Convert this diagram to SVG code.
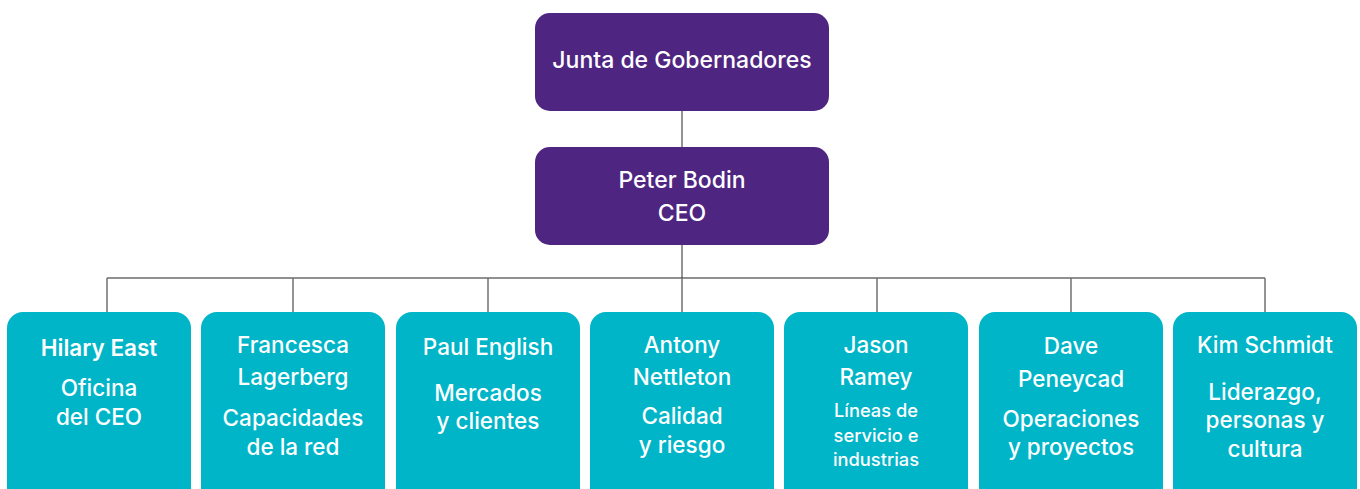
<svg xmlns="http://www.w3.org/2000/svg" width="1360" height="489" viewBox="0 0 1360 489">
<style>
.top{fill:#4F2582}
.box{fill:#00B5C8}
.t{font-family:Inter,"Noto Sans",sans-serif;font-weight:500;fill:#ffffff;text-anchor:middle;font-size:22.5px}
.tt{font-size:23px}
.s{font-size:18.3px}
.b{font-weight:600}
.v{stroke:#707070;stroke-width:1.5;fill:none}
.h{stroke:#222;stroke-width:1.2;fill:none}
</style>
<rect width="1360" height="489" fill="#ffffff"/>
<g id="connectors">
<line class="v" x1="682" y1="111" x2="682" y2="147"/>
<line class="v" x1="682" y1="244" x2="682" y2="278"/>
<line class="h" x1="107" y1="278" x2="1265" y2="278"/>
<line class="v" x1="107" y1="278" x2="107" y2="312"/>
<line class="v" x1="293" y1="278" x2="293" y2="312"/>
<line class="v" x1="488" y1="278" x2="488" y2="312"/>
<line class="v" x1="682" y1="278" x2="682" y2="312"/>
<line class="v" x1="877" y1="278" x2="877" y2="312"/>
<line class="v" x1="1071" y1="278" x2="1071" y2="312"/>
<line class="v" x1="1265" y1="278" x2="1265" y2="312"/>
</g>
<g id="junta">
<rect class="top" x="535" y="13" width="294" height="98" rx="15"/>
<text class="t tt" x="682" y="68">Junta de Gobernadores</text>
</g>
<g id="ceo">
<rect class="top" x="535" y="147" width="294" height="98" rx="15"/>
<text class="t tt" x="682" y="188">Peter Bodin</text>
<text class="t tt" x="682" y="221">CEO</text>
</g>
<g id="hilary">
<rect class="box" x="7" y="312" width="184" height="200" rx="16"/>
<text class="t b" x="99" y="356">Hilary East</text>
<text class="t" x="99" y="396">Oficina</text>
<text class="t" x="99" y="425">del CEO</text>
</g>
<g id="francesca">
<rect class="box" x="201" y="312" width="184" height="200" rx="16"/>
<text class="t" x="293" y="353">Francesca</text>
<text class="t" x="293" y="385">Lagerberg</text>
<text class="t" x="293" y="426">Capacidades</text>
<text class="t" x="293" y="455">de la red</text>
</g>
<g id="paul">
<rect class="box" x="396" y="312" width="184" height="200" rx="16"/>
<text class="t" x="488" y="355">Paul English</text>
<text class="t" x="488" y="401">Mercados</text>
<text class="t" x="488" y="429">y clientes</text>
</g>
<g id="antony">
<rect class="box" x="590" y="312" width="184" height="200" rx="16"/>
<text class="t" x="682" y="353">Antony</text>
<text class="t" x="682" y="385">Nettleton</text>
<text class="t" x="682" y="424">Calidad</text>
<text class="t" x="682" y="453">y riesgo</text>
</g>
<g id="jason">
<rect class="box" x="784" y="312" width="184" height="200" rx="16"/>
<text class="t" x="876" y="353">Jason</text>
<text class="t" x="876" y="385">Ramey</text>
<text class="t s" x="876" y="417">Líneas de</text>
<text class="t s" x="876" y="442">servicio e</text>
<text class="t s" x="876" y="466">industrias</text>
</g>
<g id="dave">
<rect class="box" x="979" y="312" width="184" height="200" rx="16"/>
<text class="t" x="1071" y="354">Dave</text>
<text class="t" x="1071" y="387">Peneycad</text>
<text class="t" x="1071" y="427">Operaciones</text>
<text class="t" x="1071" y="455">y proyectos</text>
</g>
<g id="kim">
<rect class="box" x="1173" y="312" width="184" height="200" rx="16"/>
<text class="t" x="1265" y="353">Kim Schmidt</text>
<text class="t" x="1265" y="400">Liderazgo,</text>
<text class="t" x="1265" y="428">personas y</text>
<text class="t" x="1265" y="457">cultura</text>
</g>
</svg>
